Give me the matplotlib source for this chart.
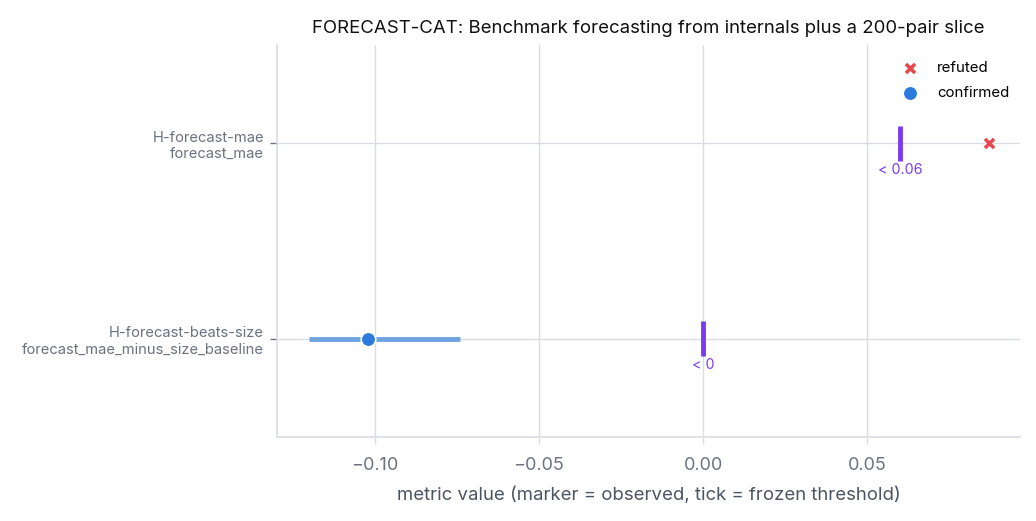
import numpy as np
import matplotlib.pyplot as plt

plt.rcParams['font.family'] = ['Inter', 'DejaVu Sans']

# hypotheses, top to bottom
hyp_names = ['H-forecast-mae', 'H-forecast-beats-size']
metric_names = ['forecast_mae', 'forecast_mae_minus_size_baseline']
observed = [0.0869, -0.1021]
ci_low = [np.nan, -0.1201]
ci_high = [np.nan, -0.0741]
thresholds = [0.06, 0.0]
threshold_labels = ['< 0.06', '< 0']
verdicts = ['refuted', 'confirmed']

grid_c = '#d9dce5'
text_c = '#6b7280'
purple = '#7c3aed'
red = '#e5484d'
blue = '#2b7bde'
ci_c = '#6fa3e0'

fig, ax = plt.subplots(figsize=(10.36, 5.21), dpi=100)
fig.subplots_adjust(left=0.267, right=0.985, top=0.913, bottom=0.162)

ypos = np.arange(len(hyp_names))

for y, lo, hi in zip(ypos, ci_low, ci_high):
    if not np.isnan(lo):
        ax.plot([lo, hi], [y, y], color=ci_c, lw=3.5, solid_capstyle='butt', zorder=3)

# threshold ticks
for y, t, lab in zip(ypos, thresholds, threshold_labels):
    ax.plot([t, t], [y - 0.09, y + 0.09], color=purple, lw=3.5, solid_capstyle='butt', zorder=4)
    ax.annotate(lab, (t, y + 0.09), xytext=(0, -1.5), textcoords='offset points',
                color=purple, fontsize=10.3, ha='center', va='top', zorder=4)

done = set()
for y, v, verdict in zip(ypos, observed, verdicts):
    lab = verdict if verdict not in done else None
    done.add(verdict)
    if verdict == 'refuted':
        ax.scatter(v, y, marker='X', s=90, color=red, edgecolor='white', linewidth=0.8,
                   zorder=5, label=lab)
    else:
        ax.scatter(v, y, marker='o', s=110, color=blue, edgecolor='white', linewidth=1.2,
                   zorder=5, label=lab)

ax.set_xlim(-0.1299, 0.0966)
ax.set_ylim(1.5, -0.5)
ax.set_xticks([-0.10, -0.05, 0.0, 0.05])
ax.set_xticklabels(['\u22120.10', '\u22120.05', '0.00', '0.05'])
ax.set_yticks(ypos)
ax.set_yticklabels([h + '\n' + m for h, m in zip(hyp_names, metric_names)],
                   fontsize=10.6, color=text_c, ha='right')

ax.grid(True, color=grid_c, lw=1)
ax.set_axisbelow(True)
for s in ['top', 'right']:
    ax.spines[s].set_visible(False)
for s in ['left', 'bottom']:
    ax.spines[s].set_color(grid_c)
    ax.spines[s].set_linewidth(1.2)
ax.tick_params(axis='x', colors=text_c, labelsize=13, length=5, width=1, color=grid_c, pad=10)
ax.tick_params(axis='y', colors=text_c, length=5, width=1, pad=4)
for lbl in ax.get_xticklabels():
    lbl.set_color(text_c)

ax.set_xlabel('metric value (marker = observed, tick = frozen threshold)', fontsize=13.4,
              color='#4b5563', labelpad=9)
ax.set_title('FORECAST-CAT: Benchmark forecasting from internals plus a 200-pair slice',
             fontsize=13.4, color='#111111', pad=9)

ax.legend(loc='upper right', bbox_to_anchor=(1.009, 1.005), frameon=False, fontsize=10.8,
          handletextpad=0.8, borderaxespad=0.7, labelspacing=0.7, borderpad=0.5)

fig.savefig('out.png', dpi=100)
